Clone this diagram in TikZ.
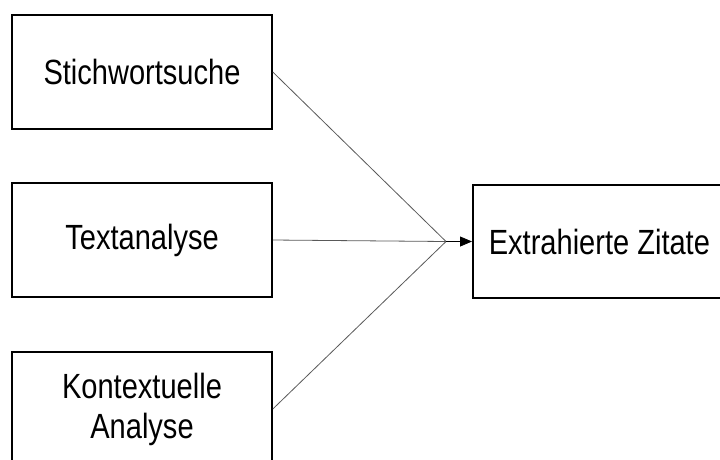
\documentclass[tikz,border=0pt]{standalone}
\usepackage{fontspec}
\setmainfont[FakeStretch=0.83]{Liberation Sans}
\usetikzlibrary{arrows.meta,positioning}
\tikzset
{
    methodbox/.style = {rectangle, draw=black, line width=1.6pt, align=center, minimum width=260pt, minimum height=114pt, font=\fontsize{35}{40}\selectfont},
    resultbox/.style = {rectangle, draw=black, line width=1.6pt, align=flush left, text width=250pt, inner xsep=16pt, minimum height=113pt, anchor=west, font=\fontsize{35}{40}\selectfont},
    link/.style      = {draw=black!65, line width=0.8pt}
}
\begin{document}
\begin{tikzpicture}[x=1pt,y=-1pt]
\useasboundingbox (0,0) rectangle (720,459);
\node [methodbox] at (142,72) (stich) {Stichwortsuche};
\node [methodbox] at (142,240) (textana) {Textanalyse};
\node [methodbox] at (142,409) (kontext) {Kontextuelle\\Analyse};
\node [resultbox] at (472,241.5) (zitate) {Extrahierte Zitate};
\coordinate (join) at (446,241.5);
\draw [link] (stich.east) -- (join);
\draw [link] (textana.east) -- (join);
\draw [link] (kontext.east) -- (join);
\draw [link, draw=black, -{Triangle[length=12pt,width=10pt]}] (join) -- (zitate.west);
\end{tikzpicture}
\end{document}
